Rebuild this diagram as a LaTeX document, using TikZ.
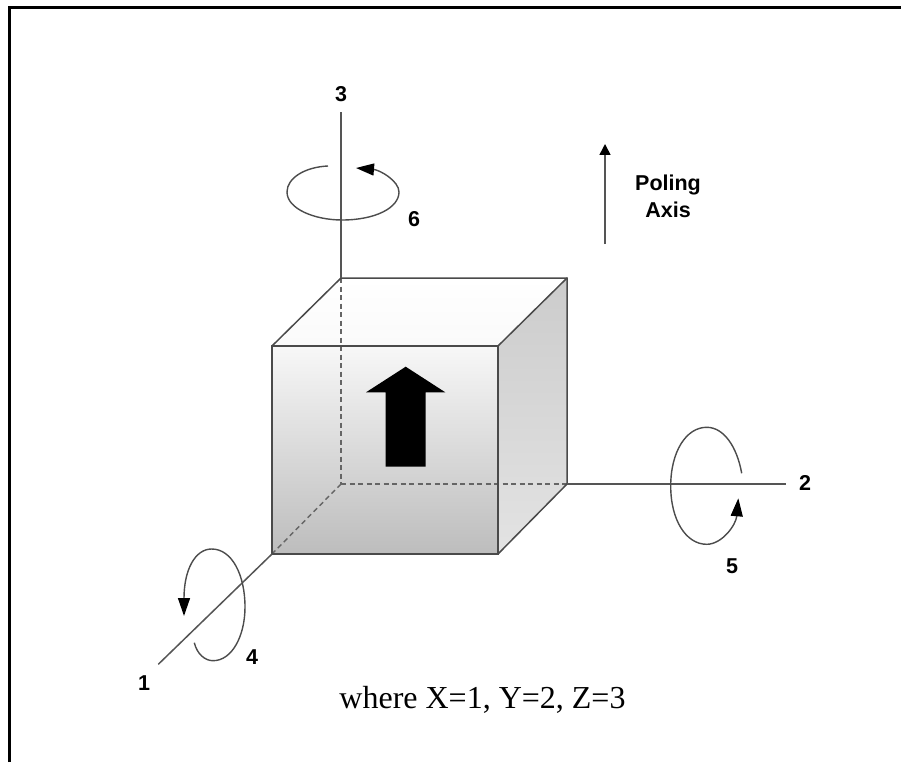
\documentclass[tikz,border=0pt]{standalone}
\usepackage{fontspec}
\setmainfont{Liberation Serif}
\newfontfamily\labelfont{Liberation Sans}
\usetikzlibrary{arrows.meta}
\definecolor{edgegray}{HTML}{4A4A4A}
\definecolor{axisgray}{HTML}{555555}

\begin{document}
\begin{tikzpicture}[
  x=1pt,y=-1pt,
  axislabel/.style={font=\labelfont\bfseries\fontsize{21.5}{27}\selectfont,align=center,inner sep=0pt},
  axisline/.style={line width=1.5pt,color=axisgray},
  hidden/.style={line width=1.4pt,color=edgegray!85,dash pattern=on 5pt off 3.5pt},
  cubeedge/.style={line width=1.5pt,color=edgegray},
  rotarrow/.style={line width=1.4pt,color=black!70,-{Stealth[length=18pt,width=12pt,inset=0pt,color=black]}}
]
  \useasboundingbox (0,0) rectangle (901,762);
  \fill[white] (0,0) rectangle (901,762);

  % frame
  \coordinate (framea) at (9.5,762);
  \coordinate (frameb) at (9.5,7.5);
  \coordinate (framec) at (901,7.5);
  \draw[line width=3pt,miter limit=10] (framea) -- (frameb) -- (framec);

  % cube corners
  \coordinate (fronttl) at (272,346);
  \coordinate (fronttr) at (498,346);
  \coordinate (frontbr) at (498,554);
  \coordinate (frontbl) at (272,554);
  \coordinate (backtl) at (341,278);
  \coordinate (backtr) at (567,278);
  \coordinate (backbr) at (567,484);
  \coordinate (backbl) at (341,484);

  % faces
  \fill[top color=white,bottom color=black!2] (fronttl) -- (backtl) -- (backtr) -- (fronttr) -- cycle;
  \fill[top color=black!20,bottom color=black!11] (fronttr) -- (backtr) -- (backbr) -- (frontbr) -- cycle;
  \fill[top color=black!3,bottom color=black!26] (fronttl) -- (fronttr) -- (frontbr) -- (frontbl) -- cycle;

  \draw[hidden] (backtl) -- (backbl);
  \draw[hidden] (backbl) -- (backbr);
  \draw[hidden] (backbl) -- (frontbl);

  \draw[cubeedge] (fronttl) rectangle (frontbr);
  \draw[cubeedge] (fronttl) -- (backtl) -- (backtr) -- (backbr) -- (frontbr);
  \draw[cubeedge] (fronttr) -- (backtr);

  % block arrow
  \fill[black] (405.7,366.7) -- (445.3,392.3) -- (425.7,392.3) -- (425.7,466.7)
    -- (385.7,466.7) -- (385.7,392.3) -- (366,392.3) -- cycle;

  % axes
  \node[axislabel] (lblthree) at (341,94) {3};
  \node[axislabel] (lbltwo) at (805,483) {2};
  \node[axislabel] (lblone) at (144,683) {1};
  \coordinate (endthree) at (341,112);
  \coordinate (endtwo) at (785.7,484);
  \coordinate (endone) at (158.3,664.3);
  \draw[axisline] (backtl) -- (endthree);
  \draw[axisline] (backbr) -- (endtwo);
  \draw[axisline] (frontbl) -- (endone);

  % rotations
  \node[axislabel] (lblsix) at (414,219) {6};
  \node[axislabel] (lblfive) at (732,566) {5};
  \node[axislabel] (lblfour) at (252,657) {4};
  \draw[rotarrow] (328,166) .. controls (305,167) and (287,178) .. (287,192)
    .. controls (287,209) and (315,220) .. (342,220)
    .. controls (375,220) and (399,208) .. (399,192)
    .. controls (399,181) and (380,170) .. (356,168);
  \draw[rotarrow] (741.7,473.3) .. controls (737,447) and (724,427.3) .. (706.7,427.3)
    .. controls (686,427.3) and (670.7,452) .. (670.7,486)
    .. controls (670.7,520) and (686,544.3) .. (706.7,544.3)
    .. controls (722,544.3) and (736,525) .. (738.3,498.3);
  \draw[rotarrow] (194.3,642.7) .. controls (197,654) and (205,660.7) .. (213,660.7)
    .. controls (232,660.7) and (245,636) .. (245,607)
    .. controls (245,575) and (232,549) .. (211.7,549)
    .. controls (195,549) and (184,570) .. (184,616);

  % poling axis
  \node[axislabel] (poling) at (668,196) {Poling\\Axis};
  \coordinate (polingbase) at (605,244);
  \coordinate (polingtip) at (605,144);
  \draw[line width=1.5pt,color=axisgray,-{Stealth[length=11pt,width=11pt,inset=0pt,color=black]}] (polingbase) -- (polingtip);

  \node[font=\fontsize{32}{36}\selectfont,inner sep=0pt,anchor=base] (caption) at (482.5,708) {where X=1, Y=2, Z=3};
\end{tikzpicture}
\end{document}
